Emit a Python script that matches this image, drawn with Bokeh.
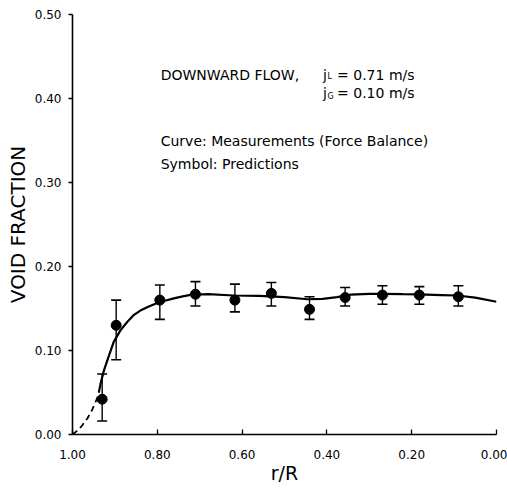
from bokeh.plotting import figure
from bokeh.models import (Range1d, FixedTicker, PrintfTickFormatter, Whisker, TeeHead,
                          ColumnDataSource, Label)
from bokeh.embed import file_html
from bokeh.resources import INLINE

# ---- data ----
# predictions (symbols) with error bars
r_pred = [0.930, 0.897, 0.794, 0.710, 0.617, 0.531, 0.441, 0.357, 0.269, 0.182, 0.090]
alpha_pred = [0.042, 0.130, 0.160, 0.167, 0.160, 0.168, 0.149, 0.163, 0.166, 0.166, 0.164]
alpha_upper = [0.072, 0.160, 0.178, 0.182, 0.179, 0.181, 0.164, 0.175, 0.177, 0.176, 0.177]
alpha_lower = [0.016, 0.089, 0.137, 0.153, 0.146, 0.153, 0.137, 0.153, 0.155, 0.155, 0.153]

# measured curve (force balance): dashed near-wall part and solid part
r_dash = [1.000, 0.990, 0.980, 0.965, 0.954, 0.942, 0.938]
alpha_dash = [0.000, 0.004, 0.009, 0.019, 0.029, 0.043, 0.050]
r_curve = [0.938, 0.934, 0.926, 0.914, 0.903, 0.887, 0.871, 0.855, 0.840, 0.820, 0.800,
           0.780, 0.761, 0.740, 0.722, 0.680, 0.620, 0.560, 0.500, 0.446, 0.410, 0.376,
           0.344, 0.300, 0.274, 0.220, 0.183, 0.130, 0.093, 0.050, 0.000]
alpha_curve = [0.050, 0.060, 0.076, 0.094, 0.110, 0.124, 0.134, 0.1425, 0.1475, 0.1525, 0.1565,
               0.1595, 0.162, 0.1645, 0.1663, 0.167, 0.1655, 0.165, 0.1635, 0.161, 0.1615, 0.1635,
               0.1665, 0.1675, 0.1675, 0.167, 0.1667, 0.166, 0.1655, 0.163, 0.158]

x_ticks = [1.0, 0.8, 0.6, 0.4, 0.2, 0.0]
y_ticks = [0.0, 0.1, 0.2, 0.3, 0.4, 0.5]

FONT = "DejaVu Sans"

p = figure(width=507, height=488, output_backend="svg", toolbar_location=None,
           x_range=Range1d(1.0, 0.0), y_range=Range1d(0.0, 0.5),
           min_border_left=72, min_border_right=11, min_border_top=14, min_border_bottom=54)
p.outline_line_color = None
p.xgrid.visible = False
p.ygrid.visible = False
p.background_fill_color = "white"
p.border_fill_color = "white"

# axes
p.xaxis.ticker = FixedTicker(ticks=x_ticks)
p.yaxis.ticker = FixedTicker(ticks=y_ticks)
p.xaxis.formatter = PrintfTickFormatter(format="%.2f")
p.yaxis.formatter = PrintfTickFormatter(format="%.2f")
for ax in (p.xaxis[0], p.yaxis[0]):
    ax.axis_line_width = 1.6
    ax.axis_line_color = "black"
    ax.major_tick_line_color = "black"
    ax.major_tick_line_width = 1.3
    ax.minor_tick_line_color = None
    ax.major_label_text_font = FONT
    ax.major_label_text_font_size = "12px"
    ax.major_label_text_color = "black"
    ax.axis_label_text_font = FONT
    ax.axis_label_text_font_style = "normal"
    ax.axis_label_text_color = "black"
    ax.axis_label_text_font_size = "19px"

p.xaxis.axis_label = "r/R"
p.xaxis.major_tick_in = 5
p.xaxis.major_tick_out = 0
p.xaxis.major_label_standoff = 15
p.xaxis.axis_label_standoff = 0

p.yaxis.axis_label = "VOID FRACTION"
p.yaxis.axis_label_text_font_size = "20px"
p.yaxis.major_tick_in = 0
p.yaxis.major_tick_out = 4
p.yaxis.major_label_standoff = 7
p.yaxis.axis_label_standoff = 2

# curve
p.line(r_dash, alpha_dash, line_color="black", line_width=1.8, line_dash="6 4")
p.line(r_curve, alpha_curve, line_color="black", line_width=2.2)

# error bars + symbols
src = ColumnDataSource(data=dict(x=r_pred, y=alpha_pred, up=alpha_upper, lo=alpha_lower))
wh = Whisker(source=src, base="x", upper="up", lower="lo", dimension="height",
             line_color="black", line_width=1.4,
             upper_head=TeeHead(size=10, line_color="black", line_width=1.6),
             lower_head=TeeHead(size=10, line_color="black", line_width=1.6))
p.add_layout(wh)
p.scatter("x", "y", source=src, size=10, marker="circle", fill_color="black", line_color="black")

# annotations
def lab(x, y, text, size="14px", xo=0, yo=0):
    p.add_layout(Label(x=x, y=y, x_offset=xo, y_offset=yo, text=text, text_font=FONT,
                       text_font_size=size, text_color="black", text_baseline="middle",
                       text_align="left"))

lab(0.792, 0.428, "DOWNWARD FLOW,")
lab(0.409, 0.428, "j")
lab(0.409, 0.428, "L", size="8px", xo=4.5, yo=-2)
lab(0.409, 0.428, "= 0.71 m/s", xo=14)
lab(0.409, 0.406, "j")
lab(0.409, 0.406, "G", size="8px", xo=4.5, yo=-3)
lab(0.409, 0.406, "= 0.10 m/s", xo=14)
lab(0.792, 0.350, "Curve:  Measurements (Force Balance)")
lab(0.792, 0.322, "Symbol:  Predictions")

open("out.html", "w").write(file_html(p, INLINE))
